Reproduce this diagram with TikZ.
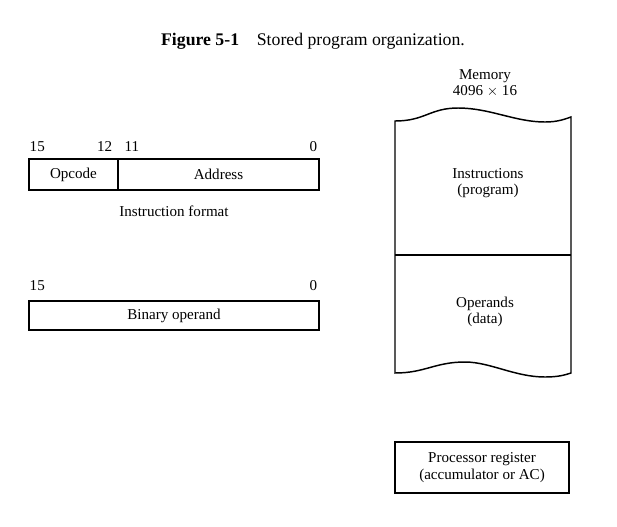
\documentclass[tikz,border=0pt]{standalone}
\usepackage{fontspec}
\setmainfont{Liberation Serif}
\usetikzlibrary{positioning}
\tikzstyle{field}=[draw=black,inner sep=0mm,minimum height=23.25pt]
\tikzstyle{bitno}=[inner sep=0mm]
\tikzstyle{note}=[inner sep=0mm,align=center]
\tikzset{every picture/.style={
    line width=1.1
  }
}

\begin{document}
\begin{tikzpicture}[x=0.75pt,y=-0.75pt,font=\fontsize{11.3}{12.4}\selectfont]
      \useasboundingbox (0,0) rectangle (617,526);
      \node[note,font=\fontsize{13.3}{15}\selectfont] at (313,41) (title) {\textbf{Figure 5-1}\quad Stored program organization.};
      % instruction format
      \node[field,minimum width=66.75pt] at (73.5,174.5) (opcode) {Opcode};
      \node[field,minimum width=150.75pt] at (218.5,174.5) (addr) {Address};
      \node[bitno,anchor=base west] at (29,151) (b15) {15};
      \node[bitno,anchor=base east] at (113,151) (b12) {12};
      \node[bitno,anchor=base west] at (124,151) (b11) {11};
      \node[bitno,anchor=base east] at (318,151) (b0) {0};
      \node[note] at (174,211) (fmt) {Instruction format};
      % binary operand
      \node[field,minimum width=217.5pt,minimum height=21.75pt] at (174,315.5) (operand) {Binary operand};
      \node[bitno,anchor=base west] at (29,290) (c15) {15};
      \node[bitno,anchor=base east] at (318,290) (c0) {0};
      % memory
      \node[note] at (485,83) (memsize) {Memory\\4096 $\times$ 16};
      \draw (395,121) .. controls (425,121) and (430,108) .. (458,108)
            .. controls (490,108) and (515,122) .. (545,122)
            .. controls (558,122) and (565,119) .. (571,117)
            -- (571,373)
            .. controls (565,375) and (558,377) .. (545,377)
            .. controls (515,377) and (490,362) .. (465,362)
            .. controls (435,362) and (425,373) .. (395,373) -- cycle;
      \draw (395,255) -- (571,255);
      \node[note] at (488,183) (instr) {Instructions\\(program)};
      \node[note] at (485,312) (oper) {Operands\\(data)};
      % processor register
      \node[field,note,minimum width=130.5pt,minimum height=38.25pt] at (482,467.5) (ac) {Processor register\\(accumulator or AC)};
    \end{tikzpicture}
\end{document}
